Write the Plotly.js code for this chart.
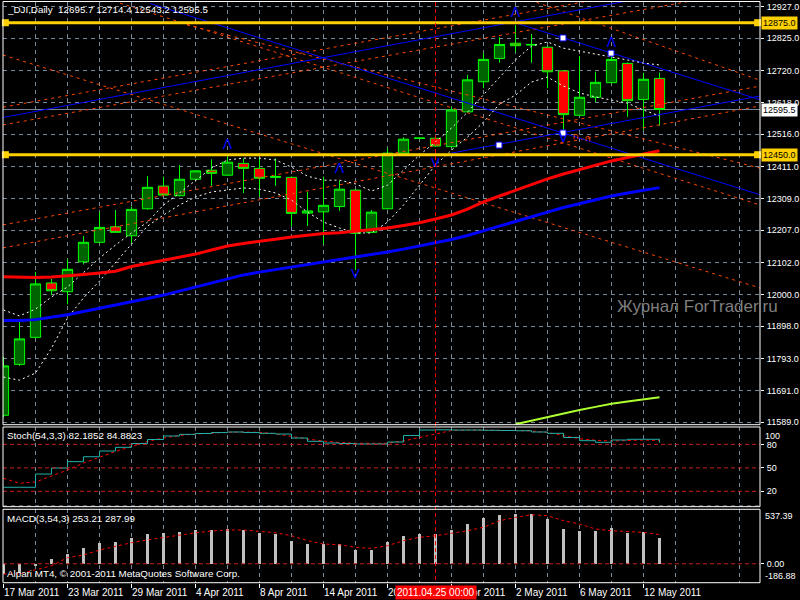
<!DOCTYPE html>
<html><head><meta charset="utf-8">
<script src="https://cdn.plot.ly/plotly-3.0.1.min.js"></script>
<style>html,body{margin:0;padding:0;background:#000}</style>
</head><body><div id="chart" style="width:800px;height:600px"></div>
<script>
// ---------- data ----------
const dates = ['17 Mar 2011','18 Mar 2011','21 Mar 2011','22 Mar 2011','23 Mar 2011','24 Mar 2011','25 Mar 2011','28 Mar 2011','29 Mar 2011','30 Mar 2011','31 Mar 2011',
 '1 Apr 2011','4 Apr 2011','5 Apr 2011','6 Apr 2011','7 Apr 2011','8 Apr 2011','11 Apr 2011','12 Apr 2011','13 Apr 2011','14 Apr 2011','15 Apr 2011',
 '18 Apr 2011','19 Apr 2011','20 Apr 2011','21 Apr 2011','22 Apr 2011','25 Apr 2011','26 Apr 2011','27 Apr 2011','28 Apr 2011','29 Apr 2011',
 '2 May 2011','3 May 2011','4 May 2011','5 May 2011','6 May 2011','9 May 2011','10 May 2011','11 May 2011','12 May 2011','13 May 2011'];
const openP  = [11611,11775,11862,12037,12009,12105,12168,12218,12189,12276,12349,12318,12371,12400,12384,12422,12406,12377,12377,12262,12266,12283,12336,12200,12276,12455,12504,12503,12476,12588,12685,12760,12809,12803,12796,12720,12577,12635,12682,12744,12628,12695.7];
const highP  = [11799,11912,12073,12050,12114,12188,12265,12272,12283,12381,12379,12417,12400,12435,12444,12438,12440,12438,12380,12331,12379,12366,12340,12272,12470,12506,12505,12505,12603,12707,12777,12828,12868,12839,12800,12722,12768,12717,12777,12747,12714,12714.4];
const lowP   = [11605,11770,11858,11998,11968,12097,12165,12198,12165,12273,12318,12316,12369,12350,12382,12326,12315,12350,12220,12221,12162,12269,12079,12199,12274,12452,12502,12475,12474,12587,12664,12746,12780,12746,12664,12513,12575,12620,12680,12572,12530,12543.2];
const closeP = [11770,11857,12034,12012,12081,12168,12216,12200,12274,12345,12320,12371,12398,12390,12426,12406,12374,12380,12261,12269,12287,12339,12197,12265,12455,12500,12503,12478,12594,12691,12757,12805,12801,12805,12717,12579,12635,12683,12757,12624,12693,12595.5];

const maRed  = [12057,12055,12055,12056,12059,12064,12069,12075,12090,12100,12109,12119,12130,12143,12156,12164,12172,12178,12185,12191,12196,12199,12204,12207,12214,12222,12231,12243,12256,12275,12298,12317,12336,12354,12372,12388,12402,12417,12430,12441,12452,12463];
const maBlue = [11916,11916,11919,11926,11935,11945,11955,11966,11976,11987,11998,12011,12026,12038,12051,12063,12072,12080,12088,12096,12103,12111,12119,12127,12137,12146,12156,12166,12177,12190,12204,12220,12235,12251,12265,12280,12293,12306,12317,12327,12336,12344];
const envUp  = [11950,11931,11953,11992,12024,12072,12117,12159,12198,12233,12288,12327,12368,12407,12433,12439,12439,12433,12410,12381,12368,12368,12356,12333,12352,12401,12449,12491,12536,12587,12642,12697,12755,12800,12813,12793,12784,12774,12765,12755,12745,12739];
const envLo  = [11734,11724,11747,11827,11924,11989,12043,12104,12162,12220,12256,12288,12314,12330,12336,12343,12339,12327,12304,12265,12233,12214,12198,12198,12233,12288,12352,12417,12465,12507,12555,12613,12642,12684,12700,12671,12649,12636,12626,12616,12594,12575];
const limeLine = [null,null,null,null,null,null,null,null,null,null,null,null,null,null,null,null,null,null,null,null,null,null,null,null,null,null,null,null,null,null,null,null,
 11582,11594,11606,11617,11628,11638,11648,11655,11661,11669];

const stochMain = [25.2,25.2,42.1,49.8,57.9,64.2,71.5,76.2,81.1,86.2,90.7,92.8,93.9,95.1,95.8,95.1,94.1,93.2,88.1,83.9,81.7,81.1,80.5,80.5,83.0,91.3,98.3,98.6,98.3,98.3,98.0,97.7,97.4,95.8,94.1,88.8,84.7,82.6,85.6,86.5,86.5,82.1852];
const stochSig  = [36.7,30.3,31.9,39.6,47.3,56.2,63.9,70.9,77.3,83.7,88.1,91.3,93.2,94.5,95.4,95.8,95.4,93.6,90.0,86.8,84.3,82.4,81.5,81.4,81.4,84.3,88.8,94.1,97.7,98.3,98.3,98.1,97.7,97.1,95.1,91.3,87.1,85.3,84.3,84.9,85.6,84.8823];
const stochLevels = [80,50,20];

const macdHist = [-100,-95,-20,45,95,155,208,215,257,293,306,313,333,333,340,333,306,294,228,195,195,195,139,139,215,274,294,294,333,392,452,481,491,491,445,343,326,326,353,304,310,253.21];
const macdSig  = [-101,-101,-60,-20,59,86,136,175,208,235,261,284,306,323,333,333,323,306,277,228,195,188,162,152,178,228,261,277,301,326,360,425,458,484,474,425,392,343,326,320,310,287.99];

const priceTicks = [12927,12825,12720,12618,12516,12411,12309,12207,12102,12000,11898,11793,11691,11589];
const hLevels = [12875,12450];
const bidPrice = 12595.5;
const cursorBar = 27;
const labelEvery = 4;

// chart objects: [bar0, price0, bar1, price1]
const orangeLines = [
  [-0.03,12771,47.28,12021],
  [-0.03,12150,47.28,12607],
  [-0.03,12224,47.28,12671],
  [-0.03,12546,47.28,12985],
  [-0.03,12603,47.28,13045],
  [7.28,12938,47.28,12288],
  [11.47,12868,47.28,12407],
  [32.9,12948,47.28,12690]
];
const blueLines = [
  [9.16,12937,47.28,12321],
  [31.84,12877,47.28,12627],
  [-0.03,12570,47.28,13025],
  [27.97,12455,47.28,12639]
];
const anchorBars   = [34.97,37.97,34.97,30.97];
const anchorPrices = [12826,12777,12520,12481];
const fractUpBars = [14,21,32,38];
const fractUpP    = [12481,12401,12905,12809];
const fractDnBars = [22,27,35];
const fractDnP    = [12063,12422,12503];
const markBars = [35.75,36.5];
const markPrices = [12508,12501];

// ---------- build ----------
const idx = dates.map((d,i)=>i);
const XR = [-0.03125, 47.28];
const FONT = 'Liberation Sans, Arial, sans-serif';
const traces = [];

function seg(l, color, dash, width){
  return {type:'scatter', mode:'lines', x:[l[0],l[2]], y:[l[1],l[3]], xaxis:'x', yaxis:'y',
    line:{color:color, width:width, dash:dash}, hoverinfo:'skip', showlegend:false};
}
orangeLines.forEach(l=>traces.push(seg(l,'#FF4500','3px,4px',1)));
blueLines.forEach(l=>traces.push(seg(l,'#0000FF','solid',1)));

traces.push({type:'scatter', mode:'lines', x:idx, y:envUp, line:{color:'#FFFFFF', width:1, dash:'2px,3px'}, hoverinfo:'skip', showlegend:false});
traces.push({type:'scatter', mode:'lines', x:idx, y:envLo, line:{color:'#FFFFFF', width:1, dash:'2px,3px'}, hoverinfo:'skip', showlegend:false});
traces.push({type:'scatter', mode:'lines', x:idx, y:maBlue, line:{color:'#0000FF', width:3}, hoverinfo:'skip', showlegend:false});
traces.push({type:'scatter', mode:'lines', x:idx, y:maRed, line:{color:'#FF0000', width:3}, hoverinfo:'skip', showlegend:false});
traces.push({type:'scatter', mode:'lines', x:idx, y:limeLine, line:{color:'#ADFF2F', width:2}, hoverinfo:'skip', showlegend:false});

traces.push({type:'candlestick', x:idx, open:openP, high:highP, low:lowP, close:closeP,
  increasing:{line:{color:'#00FF00', width:1}, fillcolor:'#006400'},
  decreasing:{line:{color:'#00FF00', width:1}, fillcolor:'#FF0000'},
  whiskerwidth:0, hoverinfo:'skip', showlegend:false});

hLevels.forEach(p=>traces.push({type:'scatter', mode:'markers', x:[XR[0]+0.15, XR[1]-0.15], y:[p,p], cliponaxis:false,
  marker:{symbol:'square', size:7, color:'#FFD000'}, hoverinfo:'skip', showlegend:false}));

traces.push({type:'scatter', mode:'markers', x:anchorBars, y:anchorPrices,
  marker:{symbol:'square', size:6, color:'#FFFFFF', line:{color:'#0000FF', width:1}}, hoverinfo:'skip', showlegend:false});
traces.push({type:'scatter', mode:'text', x:fractUpBars, y:fractUpP, text:fractUpBars.map(()=> 'Λ'),
  textfont:{color:'#0000FF', size:14, family:'DejaVu Sans'}, hoverinfo:'skip', showlegend:false});
traces.push({type:'scatter', mode:'text', x:fractDnBars, y:fractDnP, text:fractDnBars.map(()=> 'V'),
  textfont:{color:'#0000FF', size:13, family:'DejaVu Sans'}, hoverinfo:'skip', showlegend:false});
traces.push({type:'scatter', mode:'text', x:markBars, y:markPrices, text:markBars.map(()=> '∩'),
  textfont:{color:'#FF4500', size:9, family:'DejaVu Sans'}, hoverinfo:'skip', showlegend:false});

traces.push({type:'scatter', mode:'lines', x:idx, y:stochSig, xaxis:'x', yaxis:'y2', line:{color:'#FF0000', width:1, dash:'3px,3px'}, hoverinfo:'skip', showlegend:false});
traces.push({type:'scatter', mode:'lines', x:idx, y:stochMain, xaxis:'x', yaxis:'y2', line:{color:'#20B2AA', width:1, shape:'hv'}, hoverinfo:'skip', showlegend:false});

traces.push({type:'bar', x:idx, y:macdHist, xaxis:'x', yaxis:'y3', width:0.19, marker:{color:'#C0C0C0', line:{width:0}}, hoverinfo:'skip', showlegend:false});
traces.push({type:'scatter', mode:'lines', x:idx, y:macdSig, xaxis:'x', yaxis:'y3', line:{color:'#FF0000', width:1, dash:'3px,3px'}, hoverinfo:'skip', showlegend:false});

const GRID = '#778899';
const shapes = [];
hLevels.forEach(p=>shapes.push({type:'line', xref:'x domain', yref:'y', x0:0, x1:1, y0:p, y1:p, line:{color:'#FFD000', width:3}, layer:'above'}));
shapes.push({type:'line', xref:'x domain', yref:'y', x0:0, x1:1, y0:bidPrice, y1:bidPrice, line:{color:'#778899', width:1}, layer:'below'});
stochLevels.forEach(v=>shapes.push({type:'line', xref:'x domain', yref:'y2', x0:0, x1:1, y0:v, y1:v, line:{color:'#C81E1E', width:1, dash:'4px,3px'}}));
shapes.push({type:'line', xref:'x domain', yref:'y2 domain', x0:0, x1:1, y0:0.01, y1:0.01, line:{color:GRID, width:1, dash:'4px,4px'}});
shapes.push({type:'line', xref:'x domain', yref:'y3', x0:0, x1:1, y0:0, y1:0, line:{color:'#C81E1E', width:1, dash:'4px,3px'}});
shapes.push({type:'line', xref:'x', yref:'paper', x0:cursorBar, x1:cursorBar, y0:0.005, y1:1, line:{color:'#FF0000', width:1, dash:'4px,3px'}});
['y','y2','y3'].forEach(a=>shapes.push({type:'rect', xref:'x domain', yref:a+' domain', x0:0, x1:1, y0:0, y1:1, line:{color:'#FFFFFF', width:1}, fillcolor:'rgba(0,0,0,0)'}));

const annotations = [];
const tf = (s,c)=>({family:FONT, size:s, color:c||'#FFFFFF'});
const RS = 9;
annotations.push({xref:'paper', yref:'paper', x:0.002, y:0.997, xanchor:'left', yanchor:'top', showarrow:false,
  text:'_DJI,Daily  '+openP[41]+' '+highP[41]+' '+lowP[41]+' '+closeP[41], font:tf(9.8)});
annotations.push({xref:'paper', yref:'y2 domain', x:0.002, y:0.99, xanchor:'left', yanchor:'top', showarrow:false,
  text:'Stoch(54,3,3) '+stochMain[41].toFixed(4)+' '+stochSig[41].toFixed(4), font:tf(9.8)});
annotations.push({xref:'paper', yref:'y3 domain', x:0.002, y:0.98, xanchor:'left', yanchor:'top', showarrow:false,
  text:'MACD(3,54,3) '+macdHist[41].toFixed(2)+' '+macdSig[41].toFixed(2), font:tf(9.8)});
annotations.push({xref:'paper', yref:'y3 domain', x:0.002, y:0.02, xanchor:'left', yanchor:'bottom', showarrow:false,
  text:'Alpari MT4, © 2001-2011 MetaQuotes Software Corp.', font:tf(9.8)});
annotations.push({xref:'paper', yref:'y', x:1.0, y:11960, xanchor:'right', yanchor:'middle', xshift:20, showarrow:false,
  text:'Журнал ForTrader.ru', font:{family:FONT, size:17, color:'#7F7F7F'}});
hLevels.forEach(p=>annotations.push({xref:'paper', yref:'y', x:1, y:p, xanchor:'left', xshift:1, yanchor:'middle', showarrow:false,
  text:p.toFixed(1), bgcolor:'#FFD000', borderpad:1, font:tf(RS,'#000000')}));
annotations.push({xref:'paper', yref:'y', x:1, y:bidPrice, xanchor:'left', xshift:1, yanchor:'middle', showarrow:false,
  text:bidPrice.toFixed(1), bgcolor:'#FFFFFF', borderpad:1, font:tf(RS,'#000000')});
annotations.push({xref:'paper', yref:'y2', x:1, y:100, xanchor:'left', xshift:3, yanchor:'top', showarrow:false, text:'100', font:tf(RS)});
annotations.push({xref:'paper', yref:'y2', x:1, y:0, xanchor:'left', xshift:3, yanchor:'bottom', showarrow:false, text:'0', font:tf(RS)});
annotations.push({xref:'paper', yref:'y3', x:1, y:537.39, xanchor:'left', xshift:3, yanchor:'top', showarrow:false, text:'537.39', font:tf(RS)});
annotations.push({xref:'paper', yref:'y3', x:1, y:-186.88, xanchor:'left', xshift:3, yanchor:'bottom', showarrow:false, text:'-186.88', font:tf(RS)});
const tickIdx = idx.filter(i=>i%labelEvery===0);
tickIdx.forEach(i=>annotations.push({xref:'x', yref:'paper', x:i, y:0, xanchor:'left', yanchor:'top', yshift:-2, xshift:-2, showarrow:false,
  text:dates[i], font:tf(10)}));
annotations.push({xref:'x', yref:'paper', x:cursorBar, y:0, xanchor:'center', yanchor:'top', yshift:-2, showarrow:false,
  text:'2011.04.25 00:00', bgcolor:'#FF0000', borderpad:1, font:tf(10)});

const layout = {
  width:800, height:600, paper_bgcolor:'#000000', plot_bgcolor:'#000000',
  margin:{l:3, r:40, t:0, b:17}, showlegend:false, boxgap:0.36, boxgroupgap:0, bargap:0,
  font:{family:FONT, color:'#FFFFFF', size:10},
  xaxis:{range:XR, anchor:'y3', tickmode:'array', tickvals:tickIdx, ticktext:tickIdx.map(()=>''),
    ticks:'outside', ticklen:4, tickcolor:'#FFFFFF', showgrid:true, gridcolor:GRID, griddash:'4px,4px', gridwidth:1,
    minor:{tickmode:'linear', tick0:2, dtick:4, showgrid:true, gridcolor:GRID, griddash:'4px,4px', ticks:''},
    zeroline:false, showline:false, rangeslider:{visible:false}, fixedrange:true},
  yaxis:{domain:[0.2715,0.9974], range:[11580.6,12943.3], side:'right', anchor:'x', tickmode:'array', tickvals:priceTicks,
    ticktext:priceTicks.map(v=>v.toFixed(1)), ticks:'outside', ticklen:3, tickcolor:'#FFFFFF', ticklabelstandoff:1,
    showgrid:true, gridcolor:GRID, griddash:'4px,4px', zeroline:false, tickfont:{family:FONT, size:RS, color:'#FFFFFF'}},
  yaxis2:{domain:[0.1309,0.2676], range:[0.4,102.2], side:'right', anchor:'x', tickmode:'array', tickvals:stochLevels,
    ticktext:stochLevels.map(String), ticks:'outside', ticklen:3, tickcolor:'#FFFFFF', showgrid:false, zeroline:false,
    ticklabelstandoff:1, tickfont:{family:FONT, size:RS, color:'#FFFFFF'}},
  yaxis3:{domain:[0.0005,0.1264], range:[-186.9,537.39], side:'right', anchor:'x', tickmode:'array', tickvals:[0],
    ticktext:['0.00'], ticks:'outside', ticklen:3, tickcolor:'#FFFFFF', showgrid:false, zeroline:false,
    ticklabelstandoff:1, tickfont:{family:FONT, size:RS, color:'#FFFFFF'}},
  shapes:shapes, annotations:annotations
};
Plotly.newPlot('chart', traces, layout, {staticPlot:true, displayModeBar:false});
</script>
</body></html>
